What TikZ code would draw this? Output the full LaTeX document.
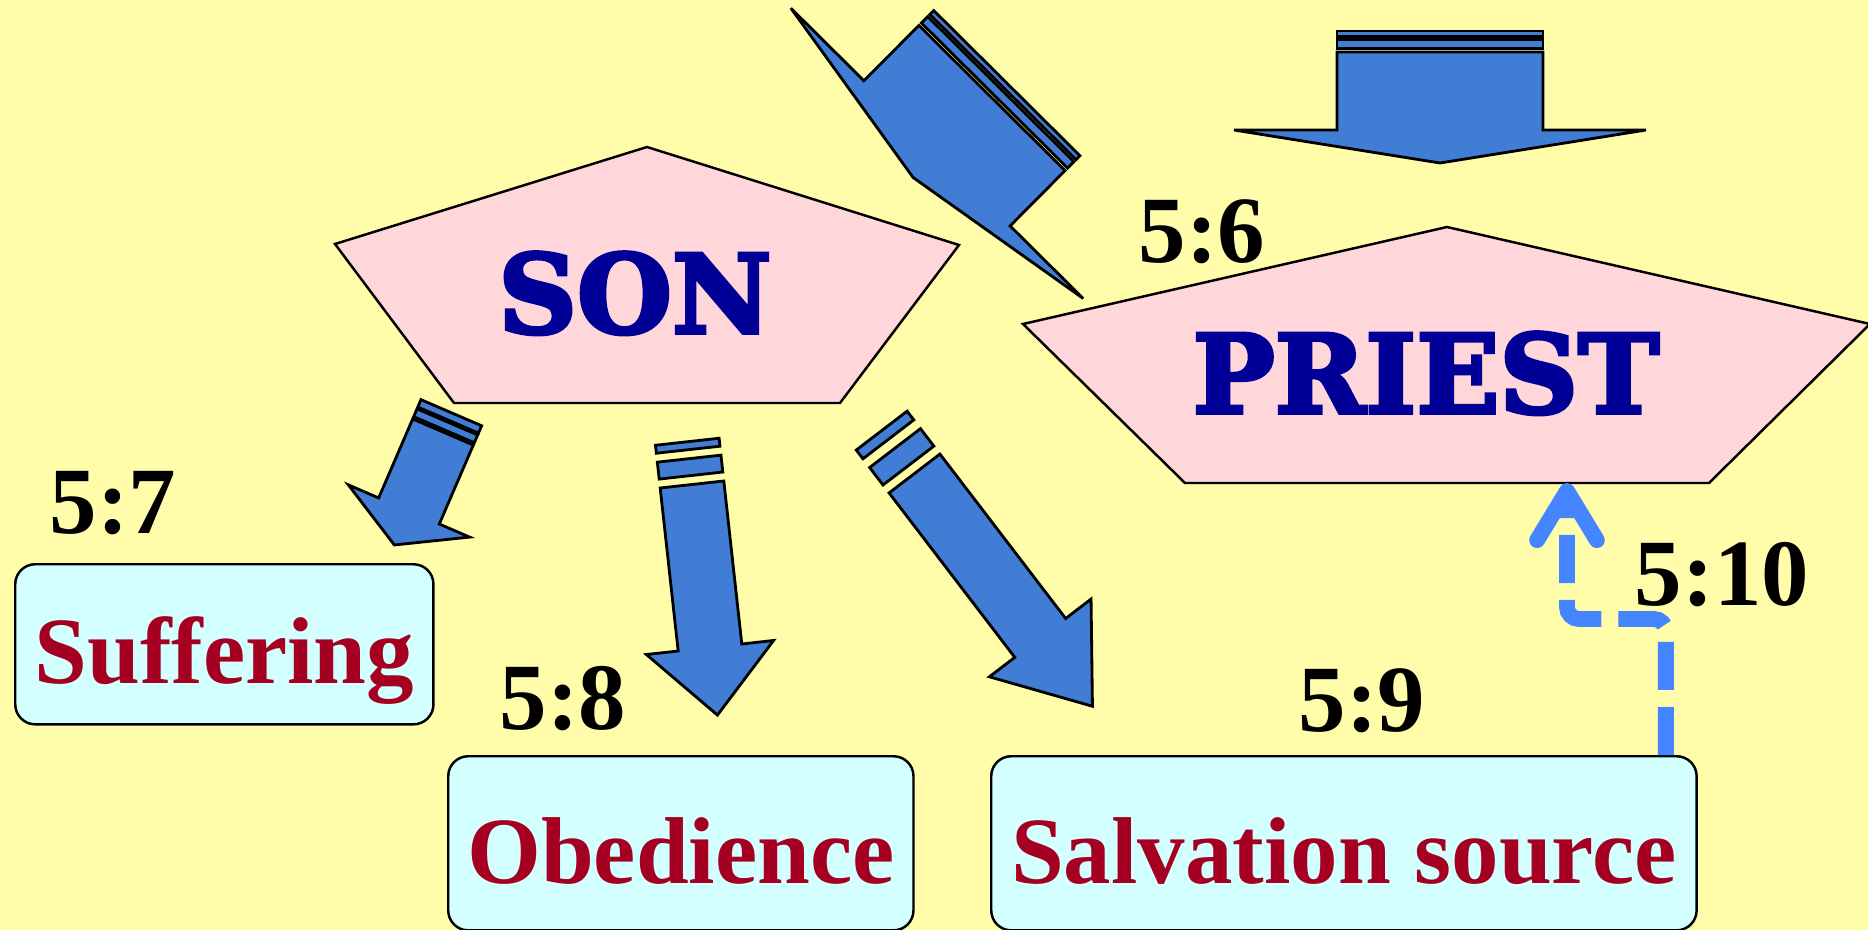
\documentclass[tikz,border=0pt]{standalone}
\usepackage{fontspec}
\setmainfont{Liberation Serif}
\newfontfamily\headfont{DejaVu Serif}[BoldFeatures={FakeBold=3.5}]
\usetikzlibrary{arrows.meta,calc}
\definecolor{paperYellow}{RGB}{255,253,170}
\definecolor{pentPink}{RGB}{255,214,217}
\definecolor{boxCyan}{RGB}{212,255,255}
\definecolor{arrowBlue}{RGB}{66,125,213}
\definecolor{linkBlue}{RGB}{69,133,255}
\definecolor{wordRed}{RGB}{165,0,33}
\definecolor{headNavy}{RGB}{0,0,150}

% block arrow with two stripes behind its tail
% #1 tail centre, #2 angle, #3 length, #4 shaft length, #5 half width, #6-#9 stripe offsets
\newcommand{\stripedarrow}[9]{%
  \begin{scope}[shift={(#1)}, rotate=#2]
    \draw[blockarrow] (0,-#5) -- (#4,-#5) -- (#4,-2*#5) -- (#3,0)
      -- (#4,2*#5) -- (#4,#5) -- (0,#5) -- cycle;
    \draw[blockarrow] (-#6,-#5) rectangle (-#7,#5);
    \draw[blockarrow] (-#8,-#5) rectangle (-#9,#5);
  \end{scope}}

\begin{document}
\begin{tikzpicture}[x=0.01cm, y=-0.01cm,
    blockarrow/.style={draw=black, fill=arrowBlue, line width=0.8pt},
    pentshape/.style={draw=black, fill=pentPink, line width=0.7pt},
    notebox/.style={draw=black, fill=boxCyan, line width=0.7pt, rounded corners=0.2cm,
      inner sep=0pt, anchor=north west, text=wordRed,
      font=\fontsize{27}{30}\selectfont\bfseries},
    verse/.style={anchor=base, font=\fontsize{27}{30}\selectfont\bfseries},
    headword/.style={anchor=base, text=headNavy, font=\headfont\fontsize{31}{34}\selectfont\bfseries},
    sourcelink/.style={draw=linkBlue, line width=4.5pt, dash pattern=on 13.7pt off 4.8pt,
      rounded corners=0.12cm, -{Straight Barb[round,length=14pt,width=17pt]}}]
  % Background
  \fill[paperYellow] (0,0) rectangle (1868,930);
  \useasboundingbox (0,0) rectangle (1868,930);

  % SON pentagon
  \draw[pentshape] (647,147) -- (959,245) -- (840,403) -- (454,403) -- (335,244) -- cycle;
  \node[headword] (son) at (635,333) {SON};

  % PRIEST pentagon
  \draw[pentshape] (1447,227) -- (1870,324) -- (1709,483) -- (1185,483) -- (1023,324) -- cycle;
  \node[headword] (priest) at (1426,413) {PRIEST};
  \coordinate (priestIn) at (1567,483);

  % Arrows coming down from above
  \stripedarrow{992,98}{225.2}{112}{78}{103}{3.5}{12.5}{15.5}{21}
  \stripedarrow{1440,52}{270}{111}{78}{103}{3.5}{12.5}{15.5}{21}

  % Arrows from SON
  \stripedarrow{443,432}{246.7}{123}{86}{33}{2.5}{11}{13}{21}
  \stripedarrow{692,484.5}{276.3}{232}{164}{32}{9}{26}{35}{43}
  \stripedarrow{914.5,473.5}{-52.6}{293}{207}{32}{10}{32}{43}{54}

  % Outcome boxes
  \node[notebox, minimum width=4.18cm, text height=1.19cm, text depth=0.41cm]
    (suffering) at (14,563) {Suffering};
  \node[notebox, minimum width=4.65cm, text height=1.27cm, text depth=0.47cm]
    (obedience) at (447,755) {Obedience};
  \node[notebox, minimum width=7.05cm, text height=1.27cm, text depth=0.47cm]
    (salvation) at (990,755) {Salvation source};

  % Verse numbers
  \node[verse] (v6) at (1202,262) {5:6};
  \node[verse] (v7) at (113,533) {5:7};
  \node[verse] (v8) at (563,729) {5:8};
  \node[verse] (v9) at (1362,731) {5:9};
  \node[verse] (v10) at (1722,605) {5:10};

  % Dashed link back up to PRIEST
  \draw[sourcelink] ($(salvation.north east)+(-32,0)$) |- ($(priestIn)+(0,136)$) -- (priestIn);
\end{tikzpicture}
\end{document}
